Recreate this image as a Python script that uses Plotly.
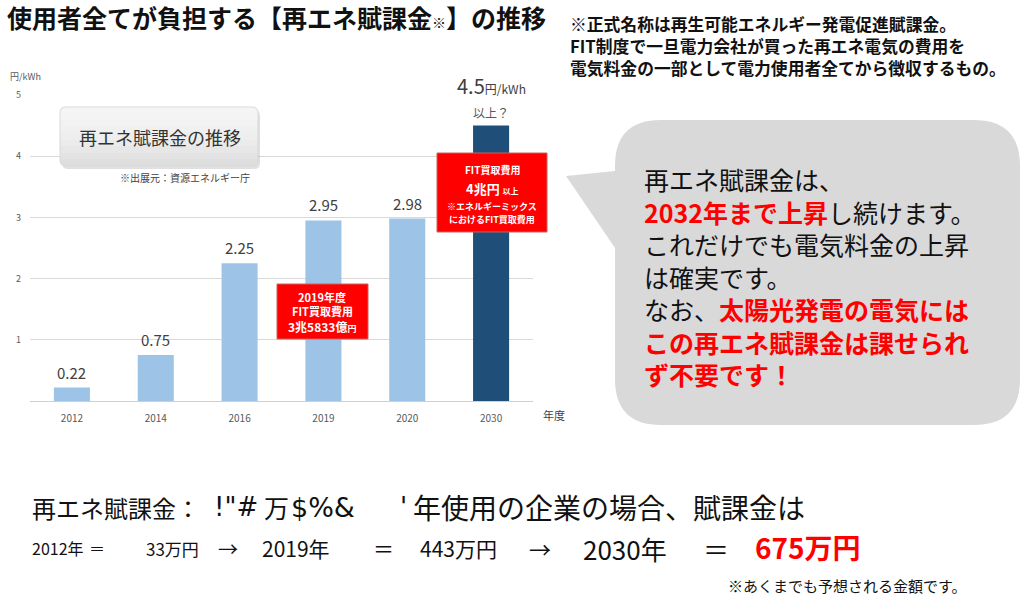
import plotly.graph_objects as go

# ---------------- data ----------------
years = ["2012", "2014", "2016", "2019", "2020", "2030"]
levy = [0.22, 0.75, 2.25, 2.95, 2.98, 4.5]
value_labels = ["0.22", "0.75", "2.25", "2.95", "2.98", ""]
bar_colors = ["#9DC3E6", "#9DC3E6", "#9DC3E6", "#9DC3E6", "#9DC3E6", "#1F4E79"]
y_tick_vals = [1, 2, 3, 4, 5]
y_tick_text = ["1", "2", "3", "4", "5"]

W, H = 1024, 597
JP = "Noto Sans CJK JP"
LAT = "DejaVu Sans"


def px(x):
    return x / W


def py(y):
    return 1 - y / H


def rounded_path(x0, y0, x1, y1, r, tail=None, r_bottom=None):
    rb = r if r_bottom is None else r_bottom
    pts = []
    pts.append(f"M {px(x0 + r)},{py(y0)}")
    pts.append(f"L {px(x1 - r)},{py(y0)}")
    pts.append(f"Q {px(x1)},{py(y0)} {px(x1)},{py(y0 + r)}")
    pts.append(f"L {px(x1)},{py(y1 - rb)}")
    if rb > 0:
        pts.append(f"Q {px(x1)},{py(y1)} {px(x1 - rb)},{py(y1)}")
    pts.append(f"L {px(x0 + rb)},{py(y1)}")
    if rb > 0:
        pts.append(f"Q {px(x0)},{py(y1)} {px(x0)},{py(y1 - rb)}")
    if tail:
        for (tx, ty) in tail:
            pts.append(f"L {px(tx)},{py(ty)}")
    pts.append(f"L {px(x0)},{py(y0 + r)}")
    pts.append(f"Q {px(x0)},{py(y0)} {px(x0 + r)},{py(y0)}")
    pts.append("Z")
    return " ".join(pts)


fig = go.Figure()
fig.add_trace(go.Bar(
    x=years, y=levy,
    marker=dict(color=bar_colors, line=dict(width=0)),
    hoverinfo="skip",
))

fig.update_layout(
    width=W, height=H,
    margin=dict(l=0, r=0, t=0, b=0, autoexpand=False),
    paper_bgcolor="white", plot_bgcolor="white",
    showlegend=False,
    bargap=0.57,
    font=dict(family=JP),
    xaxis=dict(
        domain=[px(30), px(533)], type="category",
        categoryorder="array", categoryarray=years,
        range=[-0.5, len(years) - 0.5], autorange=False,
        showgrid=False, showline=False, ticks="", automargin=False,
        tickfont=dict(size=10, color="#595959", family=JP),
        ticklabelstandoff=10, fixedrange=True,
    ),
    yaxis=dict(
        domain=[py(401), py(95)], range=[0, 5], autorange=False,
        tickvals=y_tick_vals, ticktext=y_tick_text, automargin=False,
        showgrid=True, gridcolor="#D9D9D9", gridwidth=1,
        zeroline=True, zerolinecolor="#D0D0D0", zerolinewidth=1,
        showline=False, ticks="",
        tickfont=dict(size=9, color="#595959", family=JP),
        ticklabelstandoff=8, fixedrange=True,
    ),
)

shapes = []
annotations = []

# value labels above bars (x given as category index)
for i, (v, lab) in enumerate(zip(levy, value_labels)):
    if lab:
        annotations.append(dict(
            x=i, y=v, xref="x", yref="y", text=lab,
            yanchor="bottom", yshift=3,
            font=dict(size=15, color="#404040", family=JP),
        ))

# 2030 label
last = len(years) - 1
annotations.append(dict(
    x=last, y=levy[last], xref="x", yref="y",
    text="4.5<span style='font-size:12px'>円/kWh</span>",
    yanchor="bottom", yshift=24,
    font=dict(size=20, color="#404040", family=JP),
))
annotations.append(dict(
    x=last, y=levy[last], xref="x", yref="y",
    text="以上？", yanchor="bottom", yshift=3,
    font=dict(size=12, color="#595959", family=JP),
))

# axis unit labels
annotations.append(dict(x=px(8), y=py(77), text="円/kWh", xanchor="left",
                        font=dict(size=9, color="#595959", family=JP)))
annotations.append(dict(x=px(541), y=py(415), text="年度", xanchor="left",
                        font=dict(size=11, color="#404040", family=JP)))

# grey title box inside chart (shadow + vertical gradient imitation)
bx0, by0, bx1, by1 = 60, 107, 258, 166
shapes.append(dict(type="path", xref="paper", yref="paper",
                   path=rounded_path(bx0 + 2, by0 + 3, bx1 + 2, by1 + 3, 6),
                   fillcolor="rgba(0,0,0,0.12)", line=dict(width=0), layer="above"))
shapes.append(dict(type="path", xref="paper", yref="paper",
                   path=rounded_path(bx0, by0, bx1, by1, 6),
                   fillcolor="#DEDEDE", line=dict(color="#D8D8D8", width=1), layer="above"))
steps = 8
for k in range(steps):
    hgt = (by1 - by0) * (1 - (k + 1) / (steps + 1))
    shapes.append(dict(type="path", xref="paper", yref="paper",
                       path=rounded_path(bx0 + 0.5, by0 + 0.5, bx1 - 0.5, by0 + hgt, 5.5, r_bottom=0),
                       fillcolor="rgba(255,255,255,0.16)", line=dict(width=0), layer="above"))
annotations.append(dict(x=px(160), y=py(137), text="再エネ賦課金の推移",
                        font=dict(size=18, color="#333333", family=JP)))
annotations.append(dict(x=px(118), y=py(177), text="※出展元：資源エネルギー庁", xanchor="left",
                        font=dict(size=10, color="#404040", family=JP)))

# red box 2019
shapes.append(dict(type="rect", xref="paper", yref="paper",
                   x0=px(277), x1=px(368), y0=py(339), y1=py(284),
                   fillcolor="#FF0000", line=dict(color="#C86060", width=1), layer="above"))
annotations += [
    dict(x=px(322), y=py(297), text="<b>2019年度</b>", font=dict(size=11, color="white", family=JP)),
    dict(x=px(322), y=py(311), text="<b>FIT買取費用</b>", font=dict(size=11, color="white", family=JP)),
    dict(x=px(322), y=py(326), text="<b>3兆5833億<span style='font-size:9px'>円</span></b>",
         font=dict(size=12, color="white", family=JP)),
]

# red box 2030
shapes.append(dict(type="rect", xref="paper", yref="paper",
                   x0=px(437), x1=px(547), y0=py(232), y1=py(153),
                   fillcolor="#FF0000", line=dict(color="#C86060", width=1), layer="above"))
annotations += [
    dict(x=px(492), y=py(170), text="<b>FIT買取費用</b>", font=dict(size=10, color="white", family=JP)),
    dict(x=px(492), y=py(188), text="<b>4兆円</b> <span style='font-size:8px'><b>以上</b></span>",
         font=dict(size=13, color="white", family=JP)),
    dict(x=px(492), y=py(206), text="<b>※エネルギーミックス</b>", font=dict(size=9, color="white", family=JP)),
    dict(x=px(492), y=py(220), text="<b>におけるFIT買取費用</b>", font=dict(size=9, color="white", family=JP)),
]

# title
annotations.append(dict(x=px(5), y=py(17),
                        text="<b>使用者全てが負担する【再エネ賦課金<span style='font-size:14px'>※</span>】の推移</b>",
                        xanchor="left",
                        font=dict(size=25, color="#111111", family=JP)))

# top-right note
annotations.append(dict(x=px(568), y=py(46),
                        text="<b>※正式名称は再生可能エネルギー発電促進賦課金。<br>"
                             "FIT制度で一旦電力会社が買った再エネ電気の費用を<br>"
                             "電気料金の一部として電力使用者全てから徴収するもの。</b>",
                        xanchor="left", align="left",
                        font=dict(size=16.8, color="#111111", family=JP)))

# speech bubble
shapes.append(dict(type="path", xref="paper", yref="paper",
                   path=rounded_path(615, 120, 1020, 425, 46,
                                     tail=[(615, 248), (566, 176), (615, 171)]),
                   fillcolor="#D9D9D9", line=dict(width=0), layer="above"))
red = "#FF0000"
bubble_text = (
    "再エネ賦課金は、<br>"
    f"<span style='color:{red}'><b>2032年まで上昇</b></span>し続けます。<br>"
    "これだけでも電気料金の上昇<br>"
    "は確実です。<br>"
    f"なお、<span style='color:{red}'><b>太陽光発電の電気には</b></span><br>"
    f"<span style='color:{red}'><b>この再エネ賦課金は課せられ</b></span><br>"
    f"<span style='color:{red}'><b>ず不要です！</b></span>"
)
annotations.append(dict(x=px(642), y=py(276), text=bubble_text, xanchor="left",
                        align="left", font=dict(size=25, color="#111111", family=JP)))

# bottom text line 1
annotations += [
    dict(x=px(30), y=py(507), text="再エネ賦課金", xanchor="left",
         font=dict(size=24, color="#111111", family=JP)),
    dict(x=px(188), y=py(507), text="：", font=dict(size=24, color="#111111", family=JP)),
    dict(x=px(212), y=py(507), text="!\"#", xanchor="left",
         font=dict(size=26, color="#111111", family=LAT)),
    dict(x=px(262), y=py(507), text="万", xanchor="left",
         font=dict(size=25, color="#111111", family=JP)),
    dict(x=px(289), y=py(507), text="$%&", xanchor="left",
         font=dict(size=27, color="#111111", family=LAT)),
    dict(x=px(403), y=py(507), text="'", font=dict(size=26, color="#111111", family=LAT)),
    dict(x=px(411), y=py(507), text="年使用の企業の場合、賦課金は", xanchor="left",
         font=dict(size=28, color="#111111", family=JP)),
]

# bottom text line 2
annotations += [
    dict(x=px(30), y=py(548), text="2012年", xanchor="left", font=dict(size=16, color="#111111", family=JP)),
    dict(x=px(97), y=py(548), text="＝", font=dict(size=16, color="#111111", family=JP)),
    dict(x=px(172), y=py(548), text="33万円", font=dict(size=17, color="#111111", family=JP)),
    dict(x=px(228), y=py(548), text="→", font=dict(size=20, color="#111111", family=JP)),
    dict(x=px(296), y=py(548), text="2019年", font=dict(size=21, color="#111111", family=JP)),
    dict(x=px(383), y=py(548), text="＝", font=dict(size=21, color="#111111", family=JP)),
    dict(x=px(458), y=py(548), text="443万円", font=dict(size=21, color="#111111", family=JP)),
    dict(x=px(540), y=py(548), text="→", font=dict(size=22, color="#111111", family=JP)),
    dict(x=px(625), y=py(548), text="2030年", font=dict(size=26, color="#111111", family=JP)),
    dict(x=px(716), y=py(548), text="＝", font=dict(size=26, color="#111111", family=JP)),
    dict(x=px(808), y=py(547), text="<b>675万円</b>", font=dict(size=28, color=red, family=JP)),
]

annotations.append(dict(x=px(726), y=py(585), text="※あくまでも予想される金額です。", xanchor="left",
                        font=dict(size=15, color="#111111", family=JP)))

for a in annotations:
    a.setdefault("xref", "paper")
    a.setdefault("yref", "paper")
    a.setdefault("showarrow", False)
    a.setdefault("xanchor", "center")
    a.setdefault("yanchor", "middle")

fig.update_layout(shapes=shapes, annotations=annotations)
fig.write_html("out.html", config={"displayModeBar": False},
               post_script="document.body.style.margin='0';document.body.style.padding='0';")
